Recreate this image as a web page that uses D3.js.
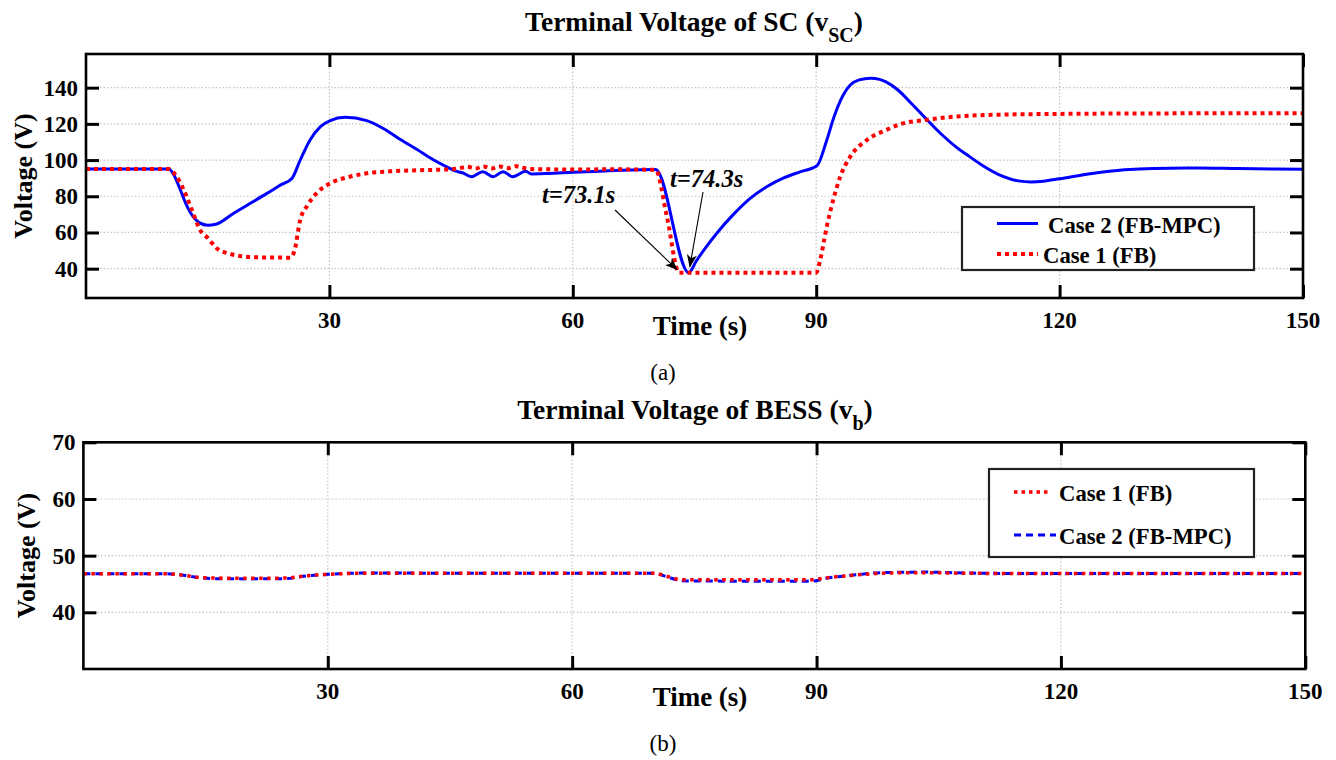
<!DOCTYPE html>
<html>
<head>
<meta charset="utf-8">
<script src="https://cdn.jsdelivr.net/npm/d3@7"></script>
<style>
  html, body { margin: 0; padding: 0; background: #fff; }
  svg { display: block; }
  text { font-family: "Liberation Serif", "Times New Roman", serif; fill: #000; }
</style>
</head>
<body>
<svg id="chart" width="1336" height="760"></svg>
<script>
// ---- Panel (a): SC terminal voltage ----
const tMinCase1 = 73.1;   // time the FB case hits the lower voltage limit
const tMinCase2 = 74.3;   // time the FB-MPC case reaches its minimum

const scTimeCase2 = [0, 10.2, 10.8, 11.5, 12.4, 13.2, 14, 15, 16, 18.2, 20.2, 22.3, 24, 25.4,
  26.4, 27.6, 28.9, 30.1, 31.9, 34.6, 36.7, 38.7, 40.8, 42.8, 44.9,
  45.5, 46.4, 47.5, 48.9, 50.2, 51.4, 52.6, 54.2, 54.9, 57, 60, 64, 67, 70.2,
  tMinCase2, 75.2, 76.4, 77.75, 79.8, 81.9, 84, 86, 88, 90.1,
  91.3, 92.2, 93, 94.2, 95.3, 96.7, 97.8, 98.6, 100, 101.8, 103.6, 105.5, 107.3, 108.9,
  110.5, 112.5, 114.9, 116.5, 118, 120, 124, 128, 131.5, 137, 142, 150];
const scVoltCase2 = [95, 95, 92, 85, 75, 68.7, 65.3, 64, 64.5, 70.6, 76, 81.6, 86.3, 90,
  100, 111, 118.5, 121.8, 123.6, 121.8, 117.3, 111.5, 105.8, 100.2, 95.3,
  94, 93, 90.8, 93.6, 90.8, 93.6, 90.8, 93.8, 92.3, 92.6, 93.3, 94, 94.5, 94.8,
  37.8, 44.1, 51.8, 59.6, 70.0, 79.0, 85.5, 90.1, 93.5, 96.9,
  111, 124, 133, 141.5, 144.3, 145.2, 144.6, 143.2, 139, 131, 122.5, 114, 107, 101.9,
  97, 92, 88.5, 87.9, 88.3, 89.7, 92.6, 94.6, 95.4, 95.6, 95.3, 94.9];

const scTimeCase1 = [0, 10.2, 11, 12, 13, 14.06, 15, 16.1, 17.5, 19, 21, 25.2,
  25.7, 26.4, 27.3, 28.4, 30.5, 32.5, 34.6, 38, 41, 44.9,
  46, 47, 48, 49, 50, 51, 52, 53, 54, 55, 60, 65, 70.2,
  71.6, tMinCase1, 80, 90,
  90.5, 91.3, 92.1, 92.96, 94.2, 96.25, 98.6, 100.4, 103.6, 107, 111, 120, 135, 150];
const scVoltCase1 = [95, 95, 92, 84, 73, 61.4, 57, 51.3, 48.5, 47, 46.3, 46.1,
  50, 66.9, 75, 81.6, 88, 90.8, 92.7, 93.9, 94.4, 94.9,
  95.5, 96.3, 95.3, 96.5, 95.4, 96.5, 95.5, 96.6, 95.6, 95, 94.8, 94.9, 94.6,
  68.7, 37.8, 37.8, 37.8,
  45, 63.2, 78, 90.8, 101.9, 111.1, 116.6, 119.9, 122.2, 124, 124.9, 125.5, 125.8, 125.8];

// ---- Panel (b): BESS terminal voltage ----
const bTimeCase1 = [0, 10, 12, 14, 16, 20, 25, 27, 30, 35, 45, 60, 70, 71.5, 73.5, 80, 89.5,
  91, 95, 98, 103, 108, 115, 150];
const bVoltCase1 = [46.8, 46.8, 46.6, 46.2, 46.05, 46.0, 46.05, 46.4, 46.7, 46.9, 46.9, 46.9, 46.9,
  46.4, 45.75, 45.75, 45.75, 46.05, 46.6, 46.9, 47.0, 46.9, 46.85, 46.85];
const bTimeCase2 = [0, 10, 12, 14, 16, 20, 25, 27, 30, 35, 45, 60, 70, 71.5, 73.5, 80, 89.5,
  91, 95, 98, 103, 108, 115, 150];
const bVoltCase2 = [46.8, 46.8, 46.6, 46.15, 45.95, 45.9, 45.95, 46.35, 46.7, 46.95, 46.9, 46.9, 46.9,
  46.35, 45.55, 45.5, 45.5, 45.95, 46.65, 47.0, 47.1, 46.95, 46.85, 46.85];

const xTicks = [30, 60, 90, 120, 150];
const scYTicks = [40, 60, 80, 100, 120, 140];
const bYTicks = [40, 50, 60, 70];

const RED = "#ff0000", BLUE = "#0000ff";
const svg = d3.select("#chart");

const defs = svg.append("defs");
defs.append("marker")
  .attr("id", "arrow").attr("viewBox", "0 0 13 10")
  .attr("refX", 12).attr("refY", 5)
  .attr("markerWidth", 13).attr("markerHeight", 10)
  .attr("markerUnits", "userSpaceOnUse")
  .attr("orient", "auto")
  .append("path").attr("d", "M0,0 L13,5 L0,10 L3.5,5 Z").attr("fill", "#000");

function panel(cfg) {
  const x = d3.scaleLinear().domain([0, 150]).range([cfg.left, cfg.right]);
  const y = d3.scaleLinear().domain(cfg.yDomain).range([cfg.bottom, cfg.top]);
  const g = svg.append("g");
  const clipId = cfg.id + "-clip";
  defs.append("clipPath").attr("id", clipId).append("rect")
    .attr("x", cfg.left).attr("y", cfg.top)
    .attr("width", cfg.right - cfg.left).attr("height", cfg.bottom - cfg.top);

  // dotted grid
  const grid = g.append("g").attr("stroke", "#c4c4c4").attr("stroke-width", 1.2)
    .attr("stroke-dasharray", "1.5,2");
  grid.selectAll("line.gx").data(xTicks.filter(d => d < 150)).enter().append("line")
    .attr("x1", d => x(d)).attr("x2", d => x(d)).attr("y1", cfg.top).attr("y2", cfg.bottom);
  grid.selectAll("line.gy").data(cfg.yTicks.filter(d => y(d) > cfg.top + 2)).enter().append("line")
    .attr("x1", cfg.left).attr("x2", cfg.right).attr("y1", d => y(d)).attr("y2", d => y(d));

  // axes with inward ticks on all four sides
  const tl = 13;
  const axB = d3.axisBottom(x).tickValues(xTicks).tickSizeInner(-tl).tickSizeOuter(0).tickFormat("");
  const axT = d3.axisTop(x).tickValues(xTicks).tickSizeInner(-tl).tickSizeOuter(0).tickFormat("");
  const axL = d3.axisLeft(y).tickValues(cfg.yTicks).tickSizeInner(-tl).tickSizeOuter(0).tickFormat("");
  const axR = d3.axisRight(y).tickValues(cfg.yTicks).tickSizeInner(-tl).tickSizeOuter(0).tickFormat("");
  [[axB, `translate(0,${cfg.bottom})`], [axT, `translate(0,${cfg.top})`],
   [axL, `translate(${cfg.left},0)`], [axR, `translate(${cfg.right},0)`]].forEach(([ax, tr]) => {
    const a = g.append("g").attr("transform", tr).call(ax);
    a.select(".domain").remove();
    a.selectAll(".tick line").attr("stroke", "#000").attr("stroke-width", 3);
  });

  // series
  const line = d3.line().x(d => x(d[0])).y(d => y(d[1])).curve(d3.curveMonotoneX);
  const lines = g.append("g").attr("clip-path", `url(#${clipId})`).attr("fill", "none");
  cfg.series.forEach(s => {
    lines.append("path")
      .datum(d3.zip(s.t, s.v))
      .attr("d", line)
      .attr("stroke", s.color).attr("stroke-width", s.width)
      .attr("stroke-dasharray", s.dash || null)
      .attr("stroke-linejoin", "round");
  });

  // frame
  g.append("rect").attr("x", cfg.left).attr("y", cfg.top)
    .attr("width", cfg.right - cfg.left).attr("height", cfg.bottom - cfg.top)
    .attr("fill", "none").attr("stroke", "#000").attr("stroke-width", 2.6);

  // tick labels
  g.selectAll("text.xl").data(xTicks).enter().append("text")
    .attr("x", d => x(d)).attr("y", cfg.bottom + 30)
    .attr("text-anchor", "middle").attr("font-size", 23).attr("font-weight", "bold")
    .text(d => d);
  g.selectAll("text.yl").data(cfg.yTicks).enter().append("text")
    .attr("x", cfg.left - 8).attr("y", d => y(d) + 8)
    .attr("text-anchor", "end").attr("font-size", 23).attr("font-weight", "bold")
    .text(d => d);

  // axis titles
  g.append("text").attr("x", 700).attr("y", cfg.bottom + 37)
    .attr("text-anchor", "middle").attr("font-size", 27).attr("font-weight", "bold")
    .text("Time (s)");
  g.append("text")
    .attr("transform", `translate(${cfg.yLabelX},${(cfg.top + cfg.bottom) / 2}) rotate(-90)`)
    .attr("text-anchor", "middle").attr("font-size", 26).attr("font-weight", "bold")
    .text("Voltage (V)");

  // title with subscript
  const tt = g.append("text").attr("x", cfg.titleX).attr("y", cfg.top - 23)
    .attr("text-anchor", "middle").attr("font-size", 27.5).attr("font-weight", "bold");
  tt.append("tspan").text(cfg.title);
  tt.append("tspan").attr("font-size", 20).attr("dy", 11).text(cfg.sub);
  tt.append("tspan").attr("dy", -11).text(")");

  // caption
  g.append("text").attr("x", 663).attr("y", cfg.bottom + 82)
    .attr("text-anchor", "middle").attr("font-size", 23).text(cfg.caption);

  // legend
  const L = cfg.legend;
  g.append("rect").attr("x", L.x).attr("y", L.y).attr("width", L.w).attr("height", L.h)
    .attr("fill", "#fff").attr("stroke", "#222").attr("stroke-width", 2.2);
  L.items.forEach(it => {
    g.append("line").attr("x1", it.x1).attr("x2", it.x2).attr("y1", it.y).attr("y2", it.y)
      .attr("stroke", it.color).attr("stroke-width", it.width).attr("stroke-dasharray", it.dash || null);
    g.append("text").attr("x", it.tx).attr("y", it.y + 9)
      .attr("font-size", 22.7).attr("font-weight", "bold").text(it.label);
  });
  return { x, y, g };
}

const pa = panel({
  id: "pa", left: 86, right: 1303, top: 54, bottom: 298, yDomain: [23.8, 158.6],
  yTicks: scYTicks, yLabelX: 32, title: "Terminal Voltage of SC (v", sub: "SC", caption: "(a)",
  titleX: 694,
  series: [
    { t: scTimeCase2, v: scVoltCase2, color: BLUE, width: 3 },
    { t: scTimeCase1, v: scVoltCase1, color: RED, width: 4, dash: "4,4" }
  ],
  legend: { x: 962, y: 207, w: 292, h: 63, items: [
    { x1: 997, x2: 1038, y: 223.5, tx: 1048, color: BLUE, width: 3, label: "Case 2 (FB-MPC)" },
    { x1: 997, x2: 1038, y: 254, tx: 1043, color: RED, width: 4, dash: "4,4", label: "Case 1 (FB)" }
  ] }
});

// annotations for the minimum points
const annot = [
  { label: `t=${tMinCase1}s`, tx: 542, ty: 203, from: [615, 210], t: tMinCase1, v: 37.8, dx: -2, dy: -3 },
  { label: `t=${tMinCase2}s`, tx: 670, ty: 187, from: [703, 192], t: tMinCase2, v: 37.8, dx: 1, dy: -6 }
];
annot.forEach(a => {
  pa.g.append("line").attr("x1", a.from[0]).attr("y1", a.from[1])
    .attr("x2", pa.x(a.t) + a.dx).attr("y2", pa.y(a.v) + a.dy)
    .attr("stroke", "#000").attr("stroke-width", 1.1).attr("marker-end", "url(#arrow)");
  pa.g.append("text").attr("x", a.tx).attr("y", a.ty)
    .attr("font-size", 24.5).attr("font-weight", "bold").attr("font-style", "italic")
    .text(a.label);
});

panel({
  id: "pb", left: 83.4, right: 1305.3, top: 442.3, bottom: 669, yDomain: [30, 70],
  yTicks: bYTicks, yLabelX: 35, title: "Terminal Voltage of BESS (v", sub: "b", caption: "(b)",
  titleX: 695,
  series: [
    { t: bTimeCase2, v: bVoltCase2, color: BLUE, width: 3, dash: "7,5" },
    { t: bTimeCase1, v: bVoltCase1, color: RED, width: 3.5, dash: "3.5,4.5" }
  ],
  legend: { x: 989, y: 469, w: 265, h: 88, items: [
    { x1: 1014, x2: 1051, y: 492, tx: 1059, color: RED, width: 3.5, dash: "3.5,4", label: "Case 1 (FB)" },
    { x1: 1014, x2: 1056, y: 535, tx: 1059, color: BLUE, width: 3, dash: "7,5", label: "Case 2 (FB-MPC)" }
  ] }
});
</script>
</body>
</html>
